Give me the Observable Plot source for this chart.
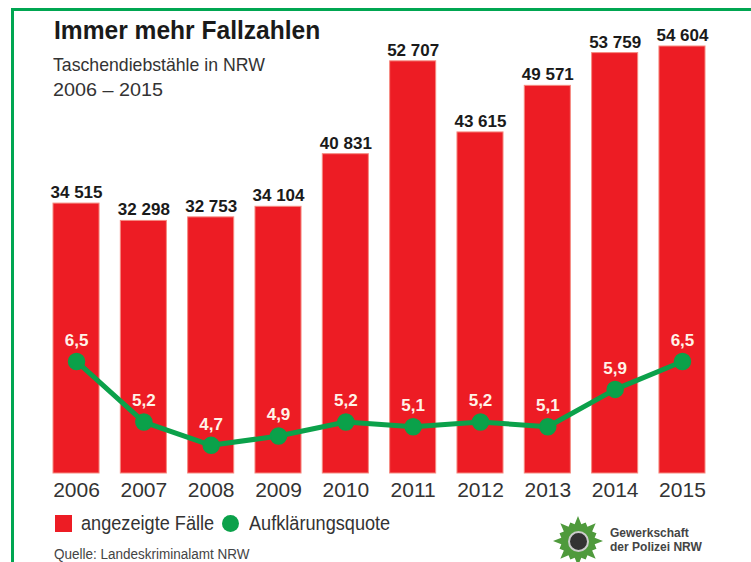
<!DOCTYPE html>
<html lang="de">
<head>
<meta charset="utf-8">
<script src="https://cdn.jsdelivr.net/npm/d3@7"></script>
<script src="https://cdn.jsdelivr.net/npm/@observablehq/plot@0.6"></script>
<style>
html,body{margin:0;padding:0;background:#fff;width:751px;height:562px;overflow:hidden}
#wrap{position:relative;width:751px;height:562px;overflow:hidden;font-family:"Liberation Sans",Arial,sans-serif}
#wrap svg.plot{position:absolute;left:0;top:0;background:transparent}
.frame{position:absolute;left:11px;top:8px;width:760px;height:600px;border:3px solid #00a651;box-sizing:border-box}
.t{position:absolute;white-space:nowrap;transform-origin:0 0}
#title{left:54px;top:15px;font:bold 26px/30px "Liberation Sans",sans-serif;color:#1a1a1a;transform:scaleX(.945)}
#sub1{left:53px;top:52px;font:19px/25px "Liberation Sans",sans-serif;color:#333;transform:scaleX(.93)}
#sub2{left:53px;top:77px;font:19px/25px "Liberation Sans",sans-serif;color:#333;transform:scaleX(1.04)}
#src{left:54px;top:545px;font:15.5px/18px "Liberation Sans",sans-serif;color:#444;transform:scaleX(.87)}
.lg{font:20.5px/24px "Liberation Sans",sans-serif;color:#333;top:511px;transform:scaleX(.885)}
.sw{position:absolute;top:515px}
#logo{position:absolute;left:553px;top:516px;width:50px;height:50px;background:#4f9a3c}
#logoc{position:absolute;left:568px;top:531px;width:21px;height:21px;border-radius:50%;background:#333;border:2px solid #ccc;box-sizing:border-box}
#gdp{left:610px;top:526px;font:bold 13.5px/14px "Liberation Sans",sans-serif;color:#444;transform:scaleX(.89)}
</style>
</head>
<body>
<div id="wrap"></div>
<script>
const years = ["2006","2007","2008","2009","2010","2011","2012","2013","2014","2015"];
const faelle = [34515,32298,32753,34104,40831,52707,43615,49571,53759,54604];
const quote = [6.5,5.2,4.7,4.9,5.2,5.1,5.2,5.1,5.9,6.5];
const faelleText = ["34 515","32 298","32 753","34 104","40 831","52 707","43 615","49 571","53 759","54 604"];
const quoteText = ["6,5","5,2","4,7","4,9","5,2","5,1","5,2","5,1","5,9","6,5"];

const RED = "#ed1c24", GREEN = "#0ba14a";
const rows = years.map((year,i)=>({year,faelle:faelle[i],quote:quote[i],ft:faelleText[i],qt:quoteText[i]}));
// The rate shares the panel on its own independent linear axis
const rateY = d3.scaleLinear().domain([4.7,6.5]).range([3600,14330]);

const chart = Plot.plot({
  width:751,height:562,
  marginLeft:53,marginRight:46,marginTop:46,marginBottom:89,
  style:{background:"transparent",overflow:"visible"},
  x:{domain:years,paddingInner:0.316,paddingOuter:0,round:false,label:null},
  y:{domain:[0,54604],axis:null,label:null},
  marks:[
    Plot.barY(rows,{x:"year",y:"faelle",fill:RED,stroke:"#f58a80",strokeWidth:1}),
    Plot.axisX({fontSize:21,fontFamily:"Liberation Sans",tickSize:0,tickPadding:9,fill:"#333",label:null}),
    Plot.text(rows,{x:"year",y:"faelle",text:"ft",dy:-11,fontSize:17,fontWeight:"bold",fontFamily:"Liberation Sans",fill:"#1a1a1a",style:{letterSpacing:"0.6px"}}),
    Plot.line(rows,{x:"year",y:d=>rateY(d.quote),stroke:GREEN,strokeWidth:5,curve:"linear"}),
    Plot.dot(rows,{x:"year",y:d=>rateY(d.quote),r:8,fill:GREEN,stroke:GREEN}),
    Plot.text(rows,{x:"year",y:d=>rateY(d.quote),text:"qt",dy:-21,fontSize:17,fontWeight:"bold",fontFamily:"Liberation Sans",fill:"#fff3e8"})
  ]
});

const wrap = document.getElementById("wrap");
wrap.append(chart);

function add(tag,id,cls,text,css){
  const e=document.createElement(tag);
  if(id)e.id=id; if(cls)e.className=cls;
  if(text)e.innerHTML=text; if(css)e.style.cssText=css;
  wrap.append(e); return e;
}
add("div",null,"frame");
add("div","title","t","Immer mehr Fallzahlen");
add("div","sub1","t","Taschendiebstähle in NRW");
add("div","sub2","t","2006 – 2015");
add("div",null,"sw","",`left:55px;width:17px;height:17px;background:${RED}`);
add("div",null,"t lg","angezeigte Fälle","left:81px");
add("div",null,"sw","",`left:222px;width:17px;height:17px;border-radius:50%;background:${GREEN}`);
add("div",null,"t lg","Aufklärungsquote","left:249px");
add("div","src","t","Quelle: Landeskriminalamt NRW");

// badge of the union
const pts=[];
for(let i=0;i<32;i++){
  const a=i/32*2*Math.PI, r=i%2?34:(i%4?40:50);
  pts.push(`${50+r*Math.cos(a)}% ${50+r*Math.sin(a)}%`);
}
add("div","logo","","",`clip-path:polygon(${pts.join(",")})`);
add("div","logoc");
add("div","gdp","t","Gewerkschaft<br>der Polizei NRW");
</script>
</body>
</html>
